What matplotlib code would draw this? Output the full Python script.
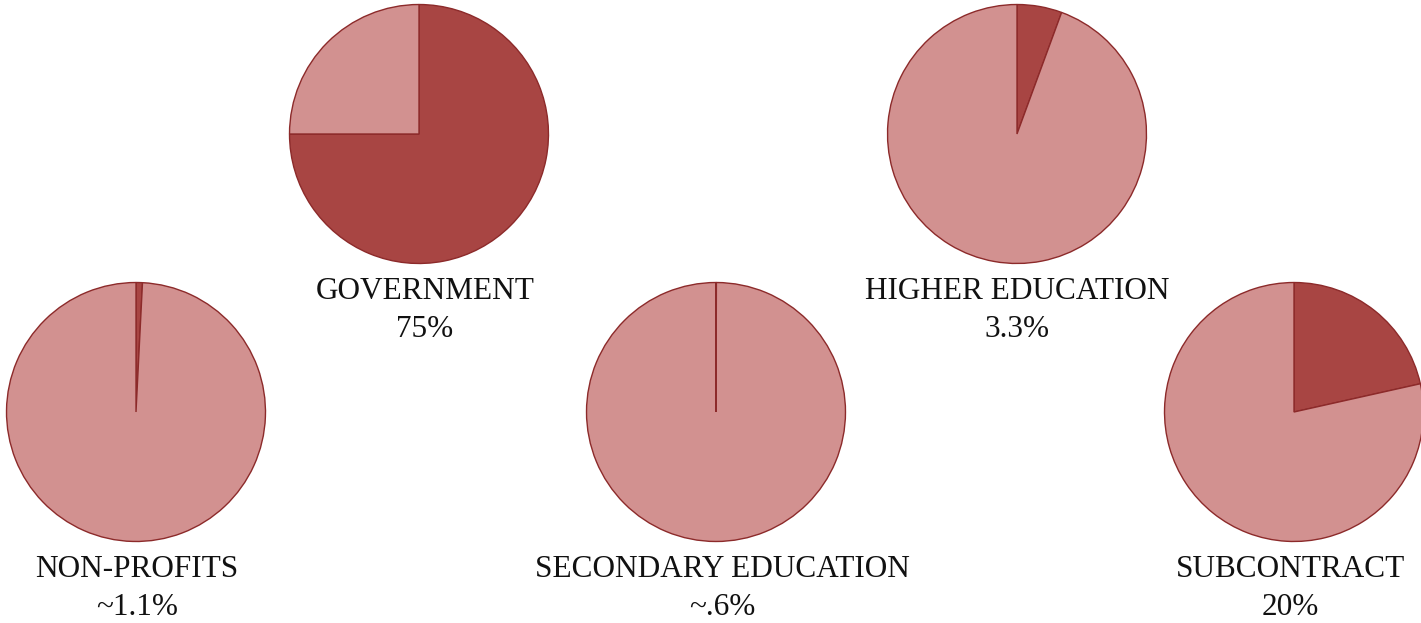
import matplotlib
matplotlib.use('Agg')
import matplotlib.pyplot as plt

# sectors, as labelled under each pie
sectors = ['NON-PROFITS', 'GOVERNMENT', 'SECONDARY EDUCATION', 'HIGHER EDUCATION', 'SUBCONTRACT']
pct_labels = ['~1.1%', '75%', '~.6%', '3.3%', '20%']
shares = [0.8, 75.0, 0.05, 5.6, 21.5]

W, H = 1421, 623
# pie centres in pixels, radius in pixels
centres = [(136, 412), (419, 134), (716, 412), (1017, 134), (1294, 412)]
# label centres are a touch off the pie centres in the original
label_x = [137, 425, 722, 1017, 1290]
R = 130

dark = '#a84543'
light = '#d29190'
edge = '#8c2a2a'

plt.rcParams['font.family'] = ['Liberation Serif', 'DejaVu Serif']

fig = plt.figure(figsize=(W / 100, H / 100), dpi=100)
fig.patch.set_facecolor('white')

for name, lab, s, (cx, cy), lx in zip(sectors, pct_labels, shares, centres, label_x):
    ax = fig.add_axes([(cx - R) / W, 1 - (cy + R) / H, 2 * R / W, 2 * R / H])
    ax.pie([s, 100 - s], colors=[dark, light], startangle=90, counterclock=False,
           wedgeprops=dict(edgecolor=edge, linewidth=1.0), radius=1)
    ax.set_xlim(-1.004, 1.004)
    ax.set_ylim(-1.004, 1.004)
    ax.set_aspect('equal')
    ax.axis('off')
    base = cy + 165
    fig.text(lx / W, 1 - base / H, name, ha='center', va='baseline', fontsize=22.5, color='#111111')
    fig.text(lx / W, 1 - (base + 38) / H, lab, ha='center', va='baseline', fontsize=22.5, color='#111111')

fig.savefig('out.png', dpi=100, facecolor='white')
